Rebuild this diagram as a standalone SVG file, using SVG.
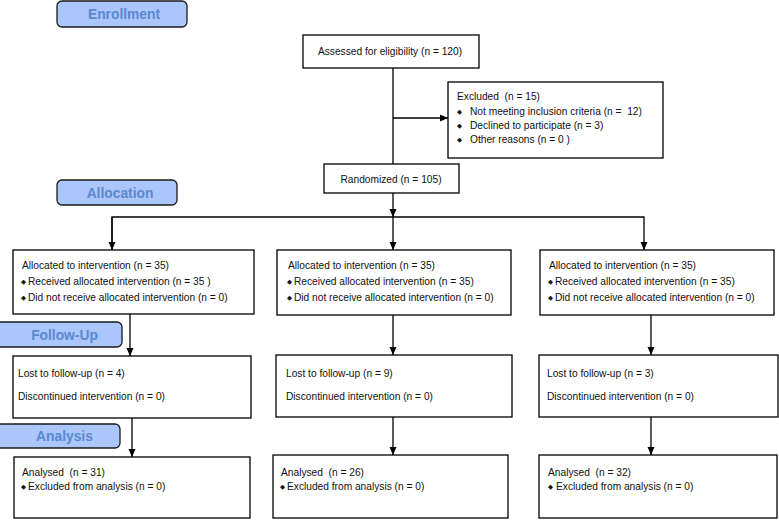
<svg xmlns="http://www.w3.org/2000/svg" width="779" height="520" viewBox="0 0 779 520">
<defs>
<marker id="arr" viewBox="0 0 8 8" refX="8" refY="4" markerWidth="8" markerHeight="8" markerUnits="userSpaceOnUse" orient="auto">
<path d="M0,0.5 L8,4 L0,7.5 z" fill="#000"/>
</marker>
<style>
.box{fill:#fff;stroke:#000;stroke-width:1.3}
.lbl{fill:#abc6fa;stroke:#1a1a1a;stroke-width:1.3}
.lt{font-family:"Liberation Sans",Arial,sans-serif;font-weight:bold;font-size:13.8px;fill:#5b89cf;text-anchor:middle}
.t{font-family:"Liberation Sans",Arial,sans-serif;font-size:10.2px;fill:#111}
.c{text-anchor:middle}
.b{font-family:"DejaVu Sans",sans-serif;font-size:6.5px;fill:#111}
.ln{fill:none;stroke:#000;stroke-width:1.3}
</style>
</defs>
<rect width="779" height="520" fill="#fff"/>

<g id="label-enrollment"><rect class="lbl" x="57" y="1" width="130" height="26" rx="5"/><text class="lt" x="124" y="19">Enrollment</text></g>
<g id="label-allocation"><rect class="lbl" x="57" y="180" width="120" height="25" rx="5"/><text class="lt" x="120" y="197.5">Allocation</text></g>
<g id="label-followup"><rect class="lbl" x="-5" y="322" width="127" height="25" rx="5"/><text class="lt" x="64.5" y="339.5">Follow-Up</text></g>
<g id="label-analysis"><rect class="lbl" x="-5" y="424" width="125" height="24" rx="5"/><text class="lt" x="64.5" y="441">Analysis</text></g>

<g id="connectors">
<path class="ln" d="M393,68 V164"/>
<path class="ln" d="M393,118 H448" marker-end="url(#arr)"/>
<path class="ln" d="M393,193 V217" marker-end="url(#arr)"/>
<path class="ln" d="M112,250 V217 H644 V250" marker-end="url(#arr)"/>
<path class="ln" d="M112,217 V250" marker-end="url(#arr)"/>
<path class="ln" d="M393,217 V250" marker-end="url(#arr)"/>
<path class="ln" d="M130,314 V356" marker-end="url(#arr)"/>
<path class="ln" d="M393,315 V355" marker-end="url(#arr)"/>
<path class="ln" d="M651,315 V355" marker-end="url(#arr)"/>
<path class="ln" d="M132,418 V457" marker-end="url(#arr)"/>
<path class="ln" d="M393,417 V455" marker-end="url(#arr)"/>
<path class="ln" d="M651,417 V455" marker-end="url(#arr)"/>
</g>

<g id="assessed"><rect class="box" x="303" y="35" width="176" height="33"/><text class="t c" x="390" y="54.5">Assessed for eligibility (n = 120)</text></g>

<g id="excluded"><rect class="box" x="448" y="82" width="215" height="76"/>
<text class="t" x="457" y="100" xml:space="preserve">Excluded  (n = 15)</text>
<text class="b" x="457" y="113.5">◆</text><text class="t" x="470" y="114.5" xml:space="preserve">Not meeting inclusion criteria (n =  12)</text>
<text class="b" x="457" y="127.5">◆</text><text class="t" x="470" y="128.5">Declined to participate (n = 3)</text>
<text class="b" x="457" y="141.5">◆</text><text class="t" x="470" y="142.5">Other reasons (n = 0 )</text>
</g>

<g id="randomized"><rect class="box" x="324" y="164" width="135" height="29"/><text class="t c" x="391" y="182.5">Randomized (n = 105)</text></g>

<g id="alloc-1"><rect class="box" x="13" y="250" width="241" height="64"/>
<text class="t" x="22" y="269">Allocated to intervention (n = 35)</text>
<text class="b" x="21" y="284">◆</text><text class="t" x="28" y="285">Received allocated intervention (n = 35 )</text>
<text class="b" x="21" y="299.5">◆</text><text class="t" x="28" y="300.5">Did not receive allocated intervention (n = 0)</text>
</g>
<g id="alloc-2"><rect class="box" x="277" y="250" width="234" height="65"/>
<text class="t" x="288" y="269">Allocated to intervention (n = 35)</text>
<text class="b" x="287" y="284">◆</text><text class="t" x="294" y="285">Received allocated intervention (n = 35)</text>
<text class="b" x="287" y="299.5">◆</text><text class="t" x="294" y="300.5">Did not receive allocated intervention (n = 0)</text>
</g>
<g id="alloc-3"><rect class="box" x="540" y="250" width="234" height="65"/>
<text class="t" x="549" y="269">Allocated to intervention (n = 35)</text>
<text class="b" x="548" y="284">◆</text><text class="t" x="555" y="285">Received allocated intervention (n = 35)</text>
<text class="b" x="548" y="299.5">◆</text><text class="t" x="555" y="300.5">Did not receive allocated intervention (n = 0)</text>
</g>

<g id="follow-1"><rect class="box" x="13" y="356" width="238" height="62"/>
<text class="t" x="18" y="376.5">Lost to follow-up (n = 4)</text>
<text class="t" x="18" y="399.5">Discontinued intervention (n = 0)</text>
</g>
<g id="follow-2"><rect class="box" x="276" y="355" width="236" height="62"/>
<text class="t" x="286" y="376.5">Lost to follow-up (n = 9)</text>
<text class="t" x="286" y="399.5">Discontinued intervention (n = 0)</text>
</g>
<g id="follow-3"><rect class="box" x="539" y="355" width="239" height="62"/>
<text class="t" x="547" y="376.5">Lost to follow-up (n = 3)</text>
<text class="t" x="547" y="399.5">Discontinued intervention (n = 0)</text>
</g>

<g id="analysed-1"><rect class="box" x="14" y="457" width="236" height="61"/>
<text class="t" x="22" y="476" xml:space="preserve">Analysed  (n = 31)</text>
<text class="b" x="21" y="488.5">◆</text><text class="t" x="28" y="489.5">Excluded from analysis (n = 0)</text>
</g>
<g id="analysed-2"><rect class="box" x="273" y="455" width="235" height="63"/>
<text class="t" x="281" y="476" xml:space="preserve">Analysed  (n = 26)</text>
<text class="b" x="280" y="488.5">◆</text><text class="t" x="287" y="489.5">Excluded from analysis (n = 0)</text>
</g>
<g id="analysed-3"><rect class="box" x="539" y="455" width="238" height="63"/>
<text class="t" x="548" y="476" xml:space="preserve">Analysed  (n = 32)</text>
<text class="b" x="548" y="488.5">◆</text><text class="t" x="556" y="489.5">Excluded from analysis (n = 0)</text>
</g>
</svg>
